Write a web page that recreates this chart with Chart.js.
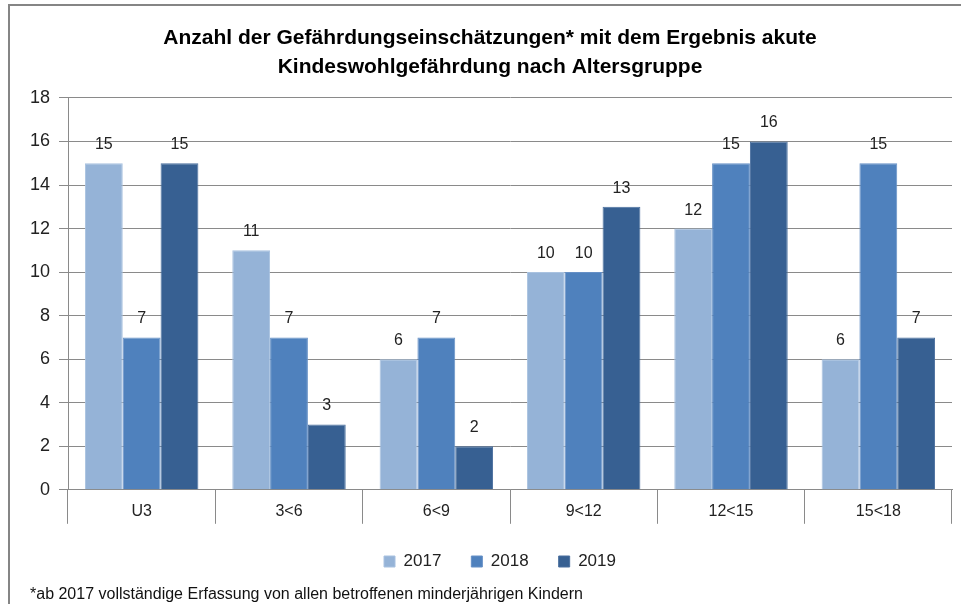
<!DOCTYPE html>
<html lang="de">
<head>
<meta charset="utf-8">
<title>Gefährdungseinschätzungen nach Altersgruppe</title>
<script src="https://cdn.jsdelivr.net/npm/chart.js@4/dist/chart.umd.min.js"></script>
<style>
    html, body { margin: 0; padding: 0; background: #fff; }
    #wrap { position: relative; width: 961px; height: 604px; overflow: hidden; }
    #frame {
        position: absolute; left: 8px; top: 4px; width: 1000px; height: 700px;
        border-top: 2px solid #858585; border-left: 2px solid #858585;
    }
    #note {
        position: absolute; left: 30px; top: 585px;
        font-family: 'Liberation Sans', Arial, sans-serif;
        font-size: 16px; color: #111; white-space: nowrap;
    }
    canvas { position: absolute; left: 0; top: 0; }
</style>
</head>
<body>
<div id="wrap">
    <div id="frame"></div>
    <canvas id="chart" width="961" height="604"></canvas>
    <div id="note">*ab 2017 vollständige Erfassung von allen betroffenen minderjährigen Kindern</div>
</div>
<script>
const AGE_GROUPS = ['U3', '3<6', '6<9', '9<12', '12<15', '15<18'];
const YEARS = ['2017', '2018', '2019'];
const VALUES_2017 = [15, 11, 6, 10, 12, 6];
const VALUES_2018 = [7, 7, 7, 10, 15, 15];
const VALUES_2019 = [15, 3, 2, 13, 16, 7];
const Y_MAX = 18;
const Y_STEP = 2;

const FONT = "'Liberation Sans', Arial, sans-serif";
const GRID = '#8a8a8a';

// value labels above each bar
const barLabels = {
    id: 'barLabels',
    afterDatasetsDraw(chart) {
        const ctx = chart.ctx;
        ctx.save();
        ctx.font = '16px ' + FONT;
        ctx.fillStyle = '#222';
        ctx.textAlign = 'center';
        ctx.textBaseline = 'alphabetic';
        chart.data.datasets.forEach((ds, i) => {
            chart.getDatasetMeta(i).data.forEach((bar, j) => {
                ctx.fillText(ds.data[j], bar.x, bar.y - 14);
            });
        });
        ctx.restore();
    }
};

// category names sit between the long separator ticks, like in Excel
const categoryLabels = {
    id: 'categoryLabels',
    afterLayout(chart) {
        // legend in the original sits a bit right of the title centre
        chart.legend.left += 10;
        chart.legend.right += 10;
    },
    afterDraw(chart) {
        const ctx = chart.ctx;
        const x = chart.scales.x;
        ctx.save();
        ctx.font = '16px ' + FONT;
        ctx.fillStyle = '#222';
        ctx.textAlign = 'center';
        ctx.textBaseline = 'middle';
        AGE_GROUPS.forEach((name, i) => {
            ctx.fillText(name, x.getPixelForValue(i), chart.chartArea.bottom + 22);
        });
        ctx.restore();
    }
};

const ctx = document.getElementById('chart').getContext('2d');
new Chart(ctx, {
    type: 'bar',
    data: {
        labels: AGE_GROUPS,
        datasets: [
            { label: YEARS[0], data: VALUES_2017, backgroundColor: '#95b3d7', borderColor: '#a9c2e0', borderWidth: 1 },
            { label: YEARS[1], data: VALUES_2018, backgroundColor: '#4f81bd', borderColor: '#6690c6', borderWidth: 1 },
            { label: YEARS[2], data: VALUES_2019, backgroundColor: '#376092', borderColor: '#4a6f9e', borderWidth: 1 }
        ]
    },
    options: {
        responsive: false,
        animation: false,
        events: [],
        layout: { padding: { left: 28, right: 9, top: 0, bottom: 24 } },
        datasets: {
            bar: { categoryPercentage: 0.77, barPercentage: 1.0 }
        },
        scales: {
            x: {
                grid: { drawOnChartArea: false, drawTicks: true, tickLength: 34, color: GRID },
                border: { display: true, color: GRID },
                // real tick text is hidden; it only sizes the gap above the legend
                ticks: { color: 'rgba(0,0,0,0)', font: { family: FONT, size: 16 }, padding: -10 }
            },
            y: {
                min: 0,
                max: Y_MAX,
                afterFit(scale) { scale.width = 40; },
                grid: { color: GRID, tickLength: 9 },
                border: { display: true, color: GRID },
                ticks: { stepSize: Y_STEP, color: '#222', font: { family: FONT, size: 18 }, padding: 9 }
            }
        },
        plugins: {
            title: {
                display: true,
                text: ['Anzahl der Gefährdungseinschätzungen* mit dem Ergebnis akute',
                       'Kindeswohlgefährdung nach Altersgruppe'],
                color: '#000',
                font: { family: FONT, size: 21, weight: 'bold', lineHeight: 1.38 },
                padding: { top: 24, bottom: 16 }
            },
            legend: {
                position: 'bottom',
                labels: {
                    color: '#222',
                    font: { family: FONT, size: 17 },
                    boxWidth: 11,
                    boxHeight: 11,
                    padding: 30
                }
            },
            tooltip: { enabled: false }
        }
    },
    plugins: [barLabels, categoryLabels]
});
</script>
</body>
</html>
